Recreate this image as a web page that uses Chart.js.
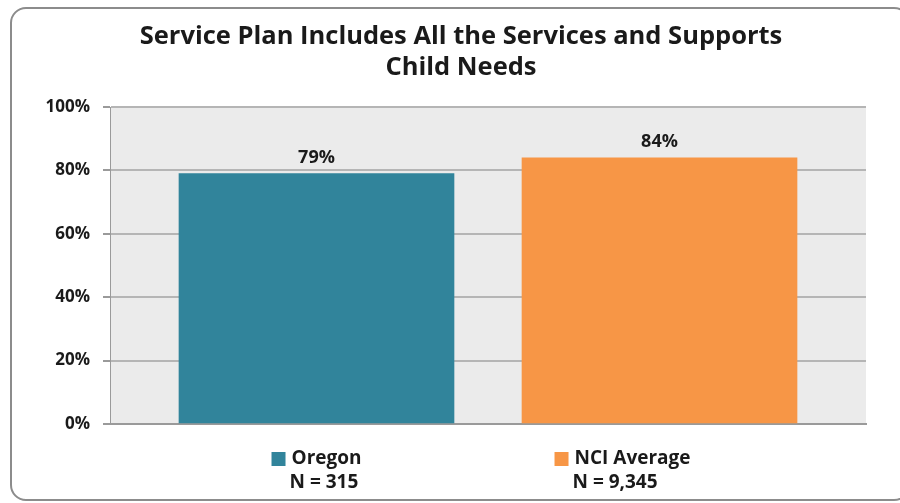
<!DOCTYPE html>
<html>
<head>
<meta charset="utf-8">
<script src="https://cdn.jsdelivr.net/npm/chart.js@4.4.0/dist/chart.umd.min.js"></script>
<style>
  html, body { margin: 0; padding: 0; background: #fff; overflow: hidden; }
  #wrap { position: relative; width: 900px; height: 503px; overflow: hidden; }
  #frame {
    position: absolute; left: 10px; top: 7px; width: 900px; height: 494px;
    border: 2px solid #8c8c8c; border-radius: 16px; box-sizing: border-box;
  }
  canvas { position: absolute; left: 0; top: 0; }
</style>
</head>
<body>
<div id="wrap">
  <div id="frame"></div>
  <canvas id="planChart" width="900" height="503"></canvas>
</div>
<script>
// Data
const categories = ['Oregon', 'NCI Average'];
const sampleSizes = ['N = 315', 'N = 9,345'];
const percentValues = [79, 84];
const barColors = ['#31849B', '#F79646'];
const titleLines = ['Service Plan Includes All the Services and Supports', 'Child Needs'];

const FONT = "'Open Sans', 'DejaVu Sans', sans-serif";

// gray plot background
const plotBackground = {
    id: 'plotBackground',
    beforeDraw(chart) {
        const { ctx, chartArea: a } = chart;
        ctx.save();
        ctx.fillStyle = '#EBEBEB';
        ctx.fillRect(a.left, a.top, a.right - a.left, a.bottom - a.top);
        ctx.restore();
    }
};

// two-line title, centred a bit left of the plot like the original
const chartTitle = {
    id: 'chartTitle',
    afterDraw(chart) {
        const { ctx } = chart;
        ctx.save();
        ctx.fillStyle = '#1a1a1a';
        ctx.font = 'bold 25.5px ' + FONT;
        ctx.textAlign = 'center';
        ctx.textBaseline = 'middle';
        titleLines.forEach((line, i) => ctx.fillText(line, 461, 37 + i * 31));
        ctx.restore();
    }
};

// value labels above bars + category labels with colour keys
const barLabels = {
    id: 'barLabels',
    afterDatasetsDraw(chart) {
        const { ctx } = chart;
        const meta = chart.getDatasetMeta(0);
        const xScale = chart.scales.x;
        const shifts = [0, -37];
        ctx.save();
        ctx.fillStyle = '#1a1a1a';
        ctx.font = 'bold 18px ' + FONT;
        ctx.textAlign = 'center';
        ctx.textBaseline = 'middle';
        meta.data.forEach((bar, i) => {
            ctx.fillText(percentValues[i] + '%', bar.x, bar.y - 16);
        });

        ctx.font = 'bold 19px ' + FONT;
        ctx.textAlign = 'left';
        categories.forEach((name, i) => {
            const cx = xScale.getPixelForValue(i) + shifts[i];
            const textW = ctx.measureText(name).width;
            const box = 14, gap = 6;
            const start = cx - (box + gap + textW) / 2;
            ctx.fillStyle = barColors[i];
            ctx.fillRect(start, 452, box, box);
            ctx.fillStyle = '#1a1a1a';
            ctx.fillText(name, start + box + gap, 459);
            ctx.fillText(sampleSizes[i], start + box + gap - 2, 483);
        });
        ctx.restore();
    }
};

new Chart(document.getElementById('planChart'), {
    type: 'bar',
    data: {
        datasets: [{
            data: percentValues.map((v, i) => ({ x: i, y: v })),
            backgroundColor: barColors,
            borderWidth: 0,
            barThickness: 275
        }]
    },
    options: {
        responsive: false,
        animation: false,
        layout: { padding: { left: 20, right: 34, top: 107, bottom: 0 } },
        plugins: {
            legend: { display: false },
            tooltip: { enabled: false },
            title: { display: false }
        },
        scales: {
            x: {
                type: 'linear',
                offset: false,
                min: -0.602,
                max: 1.602,
                grid: { display: false },
                ticks: { display: false, stepSize: 1 },
                border: { display: true, color: '#9a9a9a', width: 2 },
                afterFit(scale) { scale.height = 79; }
            },
            y: {
                min: 0,
                max: 100,
                ticks: {
                    stepSize: 20,
                    padding: 13,
                    color: '#1a1a1a',
                    font: { family: FONT, size: 17, weight: 'bold' },
                    callback: v => v + '%'
                },
                grid: { color: '#B5B5B5', lineWidth: 2, tickLength: 7, tickColor: '#9a9a9a' },
                border: { display: true, color: '#9a9a9a', width: 1 },
                afterFit(scale) { scale.width = 90; }
            }
        }
    },
    plugins: [plotBackground, chartTitle, barLabels]
});
</script>
</body>
</html>
